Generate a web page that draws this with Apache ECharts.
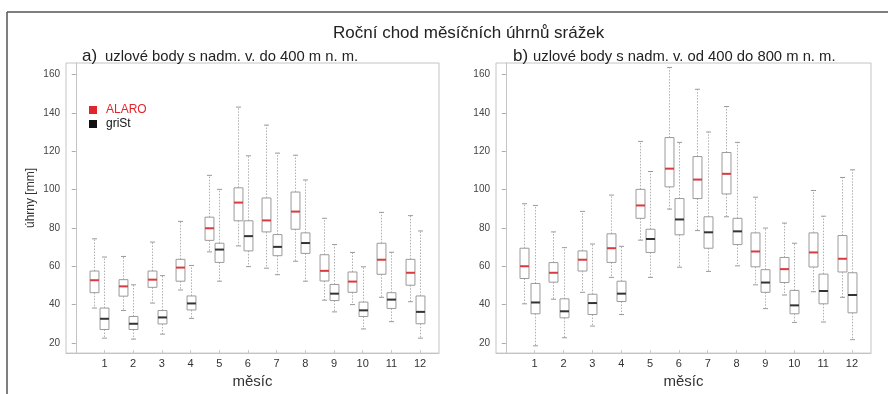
<!DOCTYPE html>
<html>
<head>
<meta charset="utf-8">
<script src="https://cdn.jsdelivr.net/npm/echarts@6/dist/echarts.min.js"></script>
<style>html,body{margin:0;padding:0;background:#fff;}#c{width:888px;height:394px;}</style>
</head>
<body>
<div id="c"></div>
<script>
// Months (x categories)
const months = [1,2,3,4,5,6,7,8,9,10,11,12];
const yTicks = [20,40,60,80,100,120,140,160];

// Box stats per month: [lower whisker, Q1, median, Q3, upper whisker]
// a) nodes up to 400 m a.s.l.
const alaroA = [
  [38.2,46.2,52.7,57.5,74.3],[36.9,44.4,49.5,53.0,65.1],[40.8,49.0,53.0,57.5,72.6],
  [47.6,52.2,59.3,63.6,83.4],[67.5,73.5,79.8,85.6,107.4],[70.6,83.7,93.2,100.9,143.0],
  [59.0,77.9,83.9,95.6,133.6],[62.6,79.3,88.5,98.7,117.9],[42.3,52.3,57.6,66.0,85.0],
  [40.0,46.4,52.0,57.0,67.2],[43.8,55.8,63.4,72.0,88.1],[41.5,50.1,56.6,63.6,86.4]
];
const gristA = [
  [22.5,27.0,32.6,38.2,64.8],[22.0,27.0,30.0,33.8,50.3],[24.6,29.9,33.3,36.9,55.1],
  [32.8,37.2,40.6,44.5,60.4],[52.2,62.0,68.7,72.0,100.1],[59.8,68.0,75.7,83.7,117.6],
  [55.6,65.5,70.1,76.5,119.0],[52.2,66.7,72.1,77.4,105.0],[36.2,42.1,45.7,50.5,71.3],
  [27.3,33.8,37.0,41.3,59.7],[31.1,38.0,42.6,46.2,67.3],[22.5,30.0,36.2,44.5,78.4]
];
// b) nodes 400 to 800 m a.s.l.
const alaroB = [
  [40.4,53.6,60.0,69.4,92.6],[42.8,51.7,56.6,61.9,77.9],[46.4,57.5,63.4,68.0,88.6],
  [54.2,62.0,69.4,76.9,97.1],[73.6,85.0,91.7,100.1,125.1],[89.8,101.4,110.9,127.1,163.7],
  [78.6,95.3,105.2,117.2,152.3],[85.8,97.7,108.2,119.3,143.3],[50.3,59.7,67.7,77.4,96.0],
  [45.0,51.5,58.5,64.6,82.5],[46.7,59.6,67.2,77.4,99.5],[43.8,57.0,63.9,76.0,106.3]
];
const gristB = [
  [18.5,35.2,41.1,51.0,91.7],[22.7,33.1,36.5,43.0,69.7],[28.8,34.8,40.8,45.4,71.6],
  [34.8,41.6,45.7,52.2,70.4],[54.2,67.2,74.2,79.3,109.4],[59.5,76.4,84.4,95.3,124.6],
  [57.3,69.4,77.7,85.8,130.0],[60.2,71.3,78.2,85.0,124.6],[37.9,46.4,51.5,58.2,79.9],
  [30.7,35.2,39.6,47.4,72.0],[30.9,40.4,47.1,55.9,86.1],[21.7,35.7,45.0,56.6,110.3]
];

const ALARO_SHIFT = -0.36;
const FONT = 'Liberation Sans, Arial, sans-serif';
const RED = '#e0262c';
const FRAME = '#c4c4c4';

function rows(stats, shift) {
  return stats.map((s, i) => [months[i] + shift].concat(s));
}

function makeRender(medColor) {
  return function (params, api) {
    const x = api.value(0);
    const p = k => api.coord([x, api.value(k)]);
    const lo = p(1), q1 = p(2), md = p(3), q3 = p(4), hi = p(5);
    const hw = api.size([0.31, 0])[0] / 2;
    const cx = Math.round(md[0]) + 0.5;
    const cap = 2.5;
    const grey = '#9a9a9a';
    const wh = { stroke: '#b0b0b0', lineWidth: 1, lineDash: [1.5, 1.5] };
    return {
      type: 'group',
      children: [
        { type: 'line', shape: { x1: cx, y1: q3[1], x2: cx, y2: hi[1] }, style: wh },
        { type: 'line', shape: { x1: cx, y1: q1[1], x2: cx, y2: lo[1] }, style: wh },
        { type: 'line', shape: { x1: cx - cap, y1: hi[1], x2: cx + cap, y2: hi[1] }, style: { stroke: grey, lineWidth: 1 } },
        { type: 'line', shape: { x1: cx - cap, y1: lo[1], x2: cx + cap, y2: lo[1] }, style: { stroke: grey, lineWidth: 1 } },
        { type: 'rect', shape: { x: cx - hw, y: q3[1], width: 2 * hw, height: q1[1] - q3[1] },
          style: { fill: 'rgba(255,255,255,0)', stroke: grey, lineWidth: 1 } },
        { type: 'line', shape: { x1: cx - hw, y1: md[1], x2: cx + hw, y2: md[1] }, style: { stroke: medColor, lineWidth: 2 } }
      ]
    };
  };
}

function xAxisDef(idx) {
  return {
    gridIndex: idx, type: 'value', min: -0.34, max: 12.66,
    name: 'měsíc', nameLocation: 'middle', nameGap: 16,
    nameTextStyle: { fontFamily: FONT, fontSize: 15, color: '#333' },
    axisLine: { show: true, lineStyle: { color: FRAME } },
    splitLine: { show: false },
    axisTick: { show: true, inside: true, length: 3, lineStyle: { color: '#c8c8c8' }, customValues: months },
    axisLabel: { customValues: months, fontFamily: FONT, fontSize: 11, color: '#333', margin: 5 }
  };
}
function yAxisDef(idx) {
  return {
    gridIndex: idx, type: 'value', min: 14.7, max: 166,
    axisLine: { show: true, lineStyle: { color: FRAME } },
    splitLine: { show: false },
    axisTick: { show: true, length: 4, lineStyle: { color: '#aaa' }, customValues: yTicks },
    axisLabel: { customValues: yTicks, fontFamily: FONT, fontSize: 10, color: '#444', margin: 6 }
  };
}
function seriesDef(name, stats, shift, color, idx) {
  return {
    type: 'custom', name: name, xAxisIndex: idx, yAxisIndex: idx,
    itemStyle: { color: color },
    renderItem: makeRender(color === RED ? '#d83a40' : '#333'),
    encode: { x: 0, y: [1, 2, 3, 4, 5] },
    data: rows(stats, shift),
    silent: true, animation: false
  };
}

const subRich = (padLeft) => ({
  a: { fontFamily: FONT, fontSize: 17, fontWeight: 'normal', color: '#222' },
  b: { fontFamily: FONT, fontSize: 14.8, fontWeight: 'normal', color: '#222', padding: [0, 0, 0, padLeft] }
});

const chart = echarts.init(document.getElementById('c'), null, { renderer: 'canvas' });
chart.setOption({
  backgroundColor: '#fff',
  animation: false,
  title: [
    { text: 'Roční chod měsíčních úhrnů srážek', left: 333, top: 25, padding: 0,
      textStyle: { fontFamily: FONT, fontSize: 17, fontWeight: 'normal', color: '#222' } },
    { text: '{a|a)}{b|uzlové body s nadm. v. do 400 m n. m.}', left: 82, top: 48, padding: 0,
      textStyle: { fontWeight: 'normal', rich: subRich(8) } },
    { text: '{a|b)}{b|uzlové body s nadm. v. od 400 do 800 m n. m.}', left: 513, top: 48, padding: 0,
      textStyle: { fontWeight: 'normal', rich: subRich(5) } }
  ],
  legend: {
    orient: 'vertical', left: 89, top: 104, padding: 0, itemWidth: 8, itemHeight: 8, itemGap: 2,
    icon: 'rect', selectedMode: false,
    textStyle: { fontFamily: FONT, fontSize: 12, padding: [0, 0, 0, 4] },
    data: [
      { name: 'ALARO', textStyle: { color: RED } },
      { name: 'griSt', textStyle: { color: '#111' } }
    ]
  },
  grid: [
    { left: 66, top: 63, width: 373, height: 296, show: true, borderColor: FRAME, borderWidth: 1, backgroundColor: 'transparent' },
    { left: 496, top: 63, width: 375, height: 296, show: true, borderColor: FRAME, borderWidth: 1, backgroundColor: 'transparent' }
  ],
  xAxis: [xAxisDef(0), xAxisDef(1)],
  yAxis: [yAxisDef(0), yAxisDef(1)],
  graphic: [
    { type: 'line', shape: { x1: 7, y1: 12, x2: 888, y2: 12 }, style: { stroke: '#555', lineWidth: 1.5 } },
    { type: 'line', shape: { x1: 7, y1: 12, x2: 7, y2: 394 }, style: { stroke: '#555', lineWidth: 1.5 } },
    { type: 'text', x: 31, y: 198, rotation: Math.PI / 2,
      style: { text: 'úhrny [mm]', font: '12px Liberation Sans, Arial, sans-serif', fill: '#333',
               align: 'center', verticalAlign: 'middle' } }
  ],
  series: [
    seriesDef('ALARO', alaroA, ALARO_SHIFT, RED, 0),
    seriesDef('griSt', gristA, 0, '#111', 0),
    seriesDef('ALARO', alaroB, ALARO_SHIFT, RED, 1),
    seriesDef('griSt', gristB, 0, '#111', 1)
  ]
});
</script>
</body>
</html>
